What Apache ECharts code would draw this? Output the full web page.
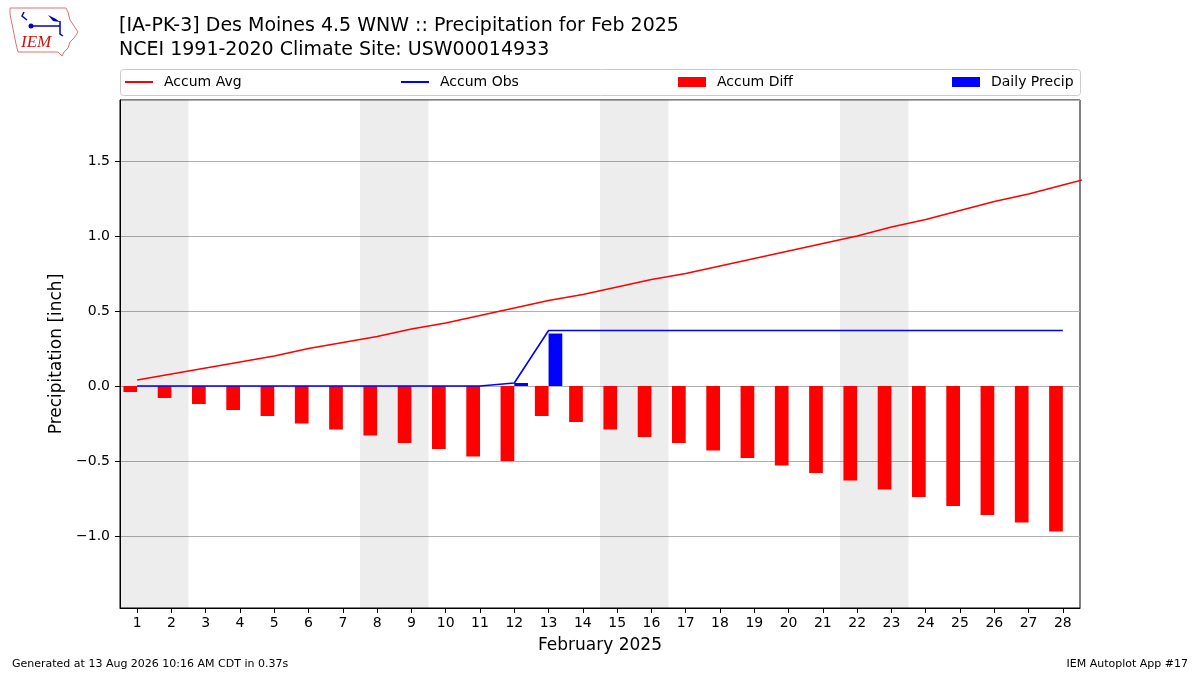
<!DOCTYPE html>
<html>
<head>
<meta charset="UTF-8">
<title>Precipitation for Feb 2025</title>
<script type="text/javascript" src="https://cdn.jsdelivr.net/npm/echarts@6/dist/echarts.min.js"></script>
<style>
  body{margin:0;background:#fff}
</style>
</head>
<body>
<div id="main" style="width:1200px;height:675px"></div>
<script type="text/javascript">
// day of month (categories)
var days = [];
for (var d = 1; d <= 28; d++) days.push(String(d));

// climatology accumulated precip, includes day 29 so the line runs to the edge
var accumAvg = [0.04, 0.08, 0.12, 0.16, 0.20, 0.25, 0.29, 0.33, 0.38, 0.42,
                0.47, 0.52, 0.57, 0.61, 0.66, 0.71, 0.75, 0.80, 0.85, 0.90,
                0.95, 1.00, 1.06, 1.11, 1.17, 1.23, 1.28, 1.34, 1.40];
// observed accumulated precip
var accumObs = [0, 0, 0, 0, 0, 0, 0, 0, 0, 0,
                0, 0.02, 0.37, 0.37, 0.37, 0.37, 0.37, 0.37, 0.37, 0.37,
                0.37, 0.37, 0.37, 0.37, 0.37, 0.37, 0.37, 0.37];
// obs minus avg
var accumDiff = [-0.04, -0.08, -0.12, -0.16, -0.20, -0.25, -0.29, -0.33, -0.38, -0.42,
                 -0.47, -0.50, -0.20, -0.24, -0.29, -0.34, -0.38, -0.43, -0.48, -0.53,
                 -0.58, -0.63, -0.69, -0.74, -0.80, -0.86, -0.91, -0.97];
// daily precip
var dailyPrecip = [0, 0, 0, 0, 0, 0, 0, 0, 0, 0,
                   0, 0.02, 0.35, 0, 0, 0, 0, 0, 0, 0,
                   0, 0, 0, 0, 0, 0, 0, 0];
// weekend spans [start day, end day]
var weekends = [[1, 2], [8, 9], [15, 16], [22, 23]];

function xy(arr) {
    return arr.map(function(v, i) { return [i + 1, v]; });
}
function fmt(v) {
    return v.toFixed(1).replace('-', '\u2212');
}

var myEcharts = echarts.init(document.getElementById('main'));

option = {
    animation: false,
    textStyle: {fontFamily: 'DejaVu Sans'},
    title: {
        text: '[IA-PK-3] Des Moines 4.5 WNW :: Precipitation for Feb 2025\nNCEI 1991-2020 Climate Site: USW00014933',
        left: 119, top: 14, padding: 0,
        textStyle: {fontFamily: 'DejaVu Sans', fontSize: 19, fontWeight: 'normal', color: '#000', lineHeight: 24}
    },
    legend: [
        {data: ['Accum Avg'], left: 125, icon: 'rect', itemHeight: 2},
        {data: ['Accum Obs'], left: 401, icon: 'rect', itemHeight: 2},
        {data: ['Accum Diff'], left: 678, icon: 'rect', itemHeight: 10},
        {data: ['Daily Precip'], left: 952, icon: 'rect', itemHeight: 10}
    ].map(function(l) {
        l.itemWidth = 28; l.itemGap = 10; l.padding = [0, 0, 0, 0];
        l.top = 75;
        l.height = 16;
        l.textStyle = {fontFamily: 'DejaVu Sans', fontSize: 14, color: '#000', padding: [0, 0, 0, 6]};
        l.selectedMode = false;
        return l;
    }),
    grid: {left: 120, right: 120, top: 100, bottom: 67, show: true, borderColor: '#000', borderWidth: 1},
    xAxis: [
        {
            type: 'category',
            data: days,
            boundaryGap: true,
            name: 'February 2025',
            nameLocation: 'middle',
            nameGap: 29,
            nameTextStyle: {fontFamily: 'DejaVu Sans', fontSize: 17, color: '#000'},
            axisLine: {onZero: false, lineStyle: {color: '#000', width: 1}},
            axisTick: {show: true, alignWithLabel: true, length: 5, lineStyle: {color: '#000'}},
            axisLabel: {fontFamily: 'DejaVu Sans', fontSize: 14, color: '#000', margin: 8, interval: 0},
            splitLine: {show: false}
        },
        {
            type: 'value', show: false, min: 0.5, max: 28.5
        }
    ],
    yAxis: {
        type: 'value',
        min: -1.48, max: 1.907,
        splitNumber: 7, minInterval: 0.5, maxInterval: 0.5,
        name: 'Precipitation [inch]',
        nameLocation: 'middle',
        nameGap: 43,
        nameTextStyle: {fontFamily: 'DejaVu Sans', fontSize: 17, color: '#000'},
        axisLine: {show: true, lineStyle: {color: '#000', width: 1}},
        axisTick: {show: true, length: 5, lineStyle: {color: '#000'}},
        axisLabel: {fontFamily: 'DejaVu Sans', fontSize: 14, color: '#000', margin: 10,
                    showMinLabel: false, showMaxLabel: false, formatter: fmt},
        splitLine: {show: true, lineStyle: {color: '#b0b0b0', width: 1}}
    },
    series: [
        {
            name: 'weekends',
            type: 'line',
            xAxisIndex: 1,
            data: [],
            silent: true,
            markArea: {
                silent: true,
                itemStyle: {color: 'rgba(0,0,0,0.07)'},
                data: weekends.map(function(w) {
                    return [{xAxis: w[0] - 0.5}, {xAxis: w[1] + 0.5}];
                })
            }
        },
        {
            name: 'Accum Diff',
            type: 'bar',
            data: accumDiff,
            barWidth: '40%',
            barGap: '0%',
            itemStyle: {color: '#ff0000'}
        },
        {
            name: 'Daily Precip',
            type: 'bar',
            data: dailyPrecip,
            barWidth: '40%',
            barGap: '0%',
            itemStyle: {color: '#0000ff'}
        },
        {
            name: 'Accum Avg',
            type: 'line',
            xAxisIndex: 1,
            data: xy(accumAvg),
            symbol: 'none',
            clip: true,
            lineStyle: {color: '#ff0000', width: 1.6},
            itemStyle: {color: '#ff0000'},
            z: 3
        },
        {
            name: 'Accum Obs',
            type: 'line',
            xAxisIndex: 1,
            data: xy(accumObs),
            symbol: 'none',
            clip: true,
            lineStyle: {color: '#0000ff', width: 1.6},
            itemStyle: {color: '#0000ff'},
            z: 3
        }
    ],
    graphic: [
        // legend frame
        {type: 'rect', left: 120, top: 69, z: -1,
         shape: {width: 960, height: 26, r: 3},
         style: {fill: '#fff', stroke: '#cccccc', lineWidth: 1}},
        // IEM logo, rough Iowa outline
        {type: 'polyline', z: 5,
         shape: {points: [[10, 8], [66, 8], [68, 12], [70, 20], [74, 26], [78, 32], [74, 38], [70, 42], [68, 48], [64, 52], [62, 56], [58, 52], [18, 52], [16, 44], [14, 34], [12, 24], [10, 14], [10, 8]]},
         style: {stroke: '#e07070', fill: null, lineWidth: 1}},
        {type: 'polyline', z: 5,
         shape: {points: [[24, 12], [22, 16], [27, 20]]},
         style: {stroke: '#0000cc', fill: null, lineWidth: 1.5}},
        {type: 'circle', z: 5, shape: {cx: 31, cy: 26, r: 2.5}, style: {fill: '#0000cc'}},
        {type: 'polyline', z: 5,
         shape: {points: [[31, 26], [60, 26]]},
         style: {stroke: '#0000cc', lineWidth: 1.5}},
        {type: 'polygon', z: 5,
         shape: {points: [[48, 15], [56, 19], [60, 22], [53, 21]]},
         style: {fill: '#0000cc'}},
        {type: 'polyline', z: 5,
         shape: {points: [[60, 21], [60, 34], [63, 36]]},
         style: {stroke: '#0000cc', fill: null, lineWidth: 1.5}},
        {type: 'text', left: 21, top: 34, z: 5,
         style: {text: 'IEM', font: 'italic 17px "Liberation Serif"', fill: '#d01010'}},
        // footer
        {type: 'text', left: 12, top: 659,
         style: {text: 'Generated at 13 Aug 2026 10:16 AM CDT in 0.37s', font: '11px "DejaVu Sans"', fill: '#000'}},
        {type: 'text', right: 12, top: 659,
         style: {text: 'IEM Autoplot App #17', font: '11px "DejaVu Sans"', fill: '#000'}}
    ]
};

myEcharts.setOption(option);
</script>
</body>
</html>
